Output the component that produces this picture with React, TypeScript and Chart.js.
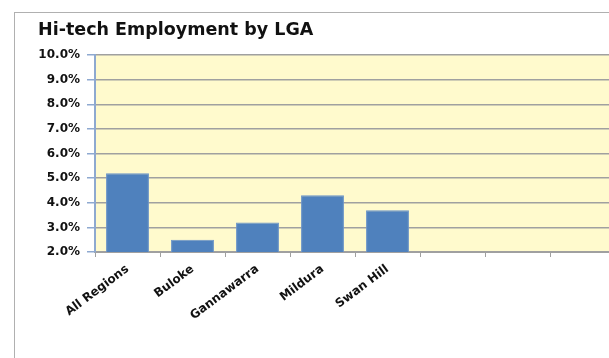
import React, { useEffect, useRef } from "react";
import { Chart, registerables } from "chart.js";

Chart.register(...registerables);

const categories = ["All Regions", "Buloke", "Gannawarra", "Mildura", "Swan Hill", "", "", ""];
const values = [5.2, 2.5, 3.2, 4.3, 3.7, null, null, null];
const yMin = 2;
const yMax = 10;
const titleText = "Hi-tech Employment by LGA";

const plotBg = {
  id: "plotBg",
  beforeDraw(chart: any) {
    const { ctx, chartArea } = chart;
    if (!chartArea) return;
    ctx.save();
    ctx.fillStyle = "#FFFACD";
    ctx.fillRect(chartArea.left, chartArea.top, chartArea.right - chartArea.left, chartArea.bottom - chartArea.top);
    ctx.restore();
  },
};

export default function App() {
  const ref = useRef<HTMLCanvasElement | null>(null);
  useEffect(() => {
    if (!ref.current) return;
    const font = "'DejaVu Sans', Verdana, sans-serif";
    const chart = new Chart(ref.current, {
      type: "bar",
      data: {
        labels: categories,
        datasets: [
          {
            data: values as any,
            backgroundColor: "#4F81BD",
            borderColor: "#6B94C8",
            borderWidth: 1,
            barPercentage: 0.66,
            categoryPercentage: 1,
          },
        ],
      },
      options: {
        responsive: false,
        animation: false,
        layout: { padding: { left: 38, right: 5, top: 0, bottom: 0 } },
        plugins: {
          legend: { display: false },
          tooltip: { enabled: false },
          title: {
            display: true,
            text: titleText,
            align: "start",
            color: "#111",
            font: { family: font, size: 17.5, weight: "bold" },
            padding: { top: 20, bottom: 14 },
          },
        },
        scales: {
          x: {
            offset: true,
            grid: {
              offset: true,
              drawOnChartArea: false,
              drawTicks: true,
              tickLength: 5,
              color: "#A0A0A0",
            },
            border: { color: "#A0A0A0", width: 2 },
            ticks: {
              minRotation: 37,
              maxRotation: 37,
              autoSkip: false,
              padding: 5,
              color: "#111",
              font: { family: font, size: 12, weight: "bold" },
            },
            afterFit(scale: any) {
              scale.height = 106;
            },
          },
          y: {
            min: yMin,
            max: yMax,
            grid: {
              color: "#A0A0A0",
              lineWidth: 1.5,
              tickLength: 8,
              tickColor: "#8EA9D0",
            },
            border: { color: "#8EA9D0", width: 2 },
            ticks: {
              stepSize: 1,
              padding: 7,
              color: "#111",
              font: { family: font, size: 12, weight: "bold" },
              callback: (v: any) => Number(v).toFixed(1) + "%",
            },
            afterFit(scale: any) {
              scale.width = 57;
            },
          },
        },
      },
      plugins: [plotBg],
    });
    return () => chart.destroy();
  }, []);

  return (
    <div
      style={{
        position: "fixed",
        left: 0,
        top: 0,
        width: 609,
        height: 358,
        overflow: "hidden",
        background: "#fff",
      }}
    >
      <div
        style={{
          position: "absolute",
          left: 14,
          top: 12,
          width: 640,
          height: 400,
          border: "1px solid #B0B0B0",
        }}
      />
      <canvas
        ref={ref}
        width={620}
        height={358}
        style={{ position: "absolute", left: 0, top: 0, width: 620, height: 358 }}
      />
    </div>
  );
}
